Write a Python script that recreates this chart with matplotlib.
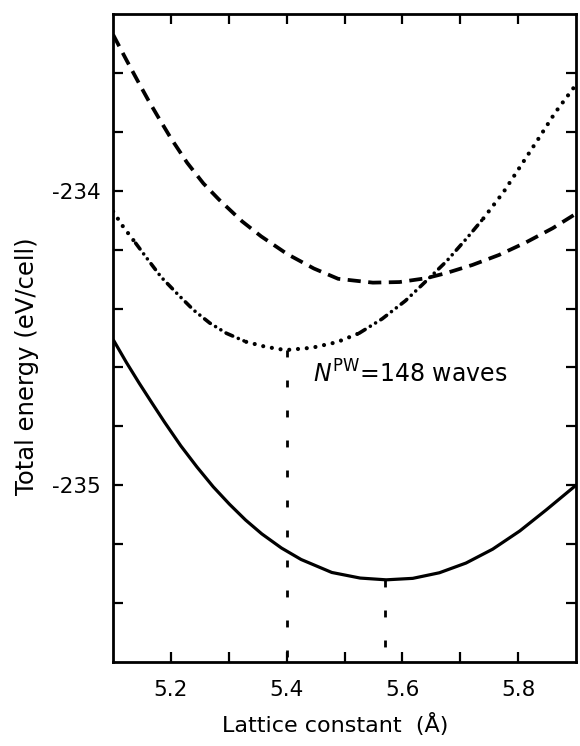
import matplotlib
matplotlib.use("Agg")
import matplotlib.pyplot as plt
from matplotlib.ticker import FixedLocator

# total energy vs lattice constant, converged basis (solid)
a_conv = [5.10, 5.123, 5.145, 5.167, 5.189, 5.217, 5.245, 5.273, 5.301, 5.329,
          5.357, 5.391, 5.425, 5.478, 5.527, 5.572, 5.618, 5.664, 5.710, 5.756,
          5.803, 5.849, 5.90]
e_conv = [-234.505, -234.583, -234.653, -234.720, -234.786, -234.866, -234.938,
          -235.005, -235.064, -235.118, -235.165, -235.213, -235.252, -235.296,
          -235.315, -235.321, -235.316, -235.297, -235.264, -235.217, -235.155,
          -235.083, -235.000]

# fixed energy cutoff (dashed)
a_cut = [5.10, 5.123, 5.145, 5.161, 5.178, 5.200, 5.228, 5.256, 5.283, 5.323,
         5.356, 5.401, 5.447, 5.489, 5.549, 5.595, 5.641, 5.675, 5.721, 5.767,
         5.814, 5.860, 5.90]
e_cut = [-233.47, -233.556, -233.636, -233.693, -233.750, -233.822, -233.905,
         -233.975, -234.030, -234.104, -234.155, -234.215, -234.264, -234.299,
         -234.312, -234.310, -234.297, -234.280, -234.252, -234.218, -234.175,
         -234.127, -234.078]

# fixed number of plane waves, N_PW = 148 (dotted)
a_pw = [5.10, 5.117, 5.139, 5.161, 5.183, 5.211, 5.239, 5.267, 5.296, 5.330,
        5.364, 5.398, 5.444, 5.487, 5.525, 5.565, 5.605, 5.635, 5.676, 5.711,
        5.740, 5.775, 5.805, 5.835, 5.864, 5.90]
e_pw = [-234.07, -234.121, -234.178, -234.236, -234.293, -234.350, -234.405,
        -234.449, -234.484, -234.513, -234.530, -234.541, -234.533, -234.514,
        -234.484, -234.435, -234.374, -234.318, -234.240, -234.162, -234.094,
        -234.004, -233.914, -233.824, -233.735, -233.64]

# equilibrium lattice constants
a_min_pw, e_min_pw = 5.40, -234.541
a_min_conv, e_min_conv = 5.57, -235.321

x_ticks = [5.2, 5.4, 5.6, 5.8]
x_ticklabels = ['5.2', '5.4', '5.6', '5.8']
y_ticks = [-235.0, -234.0]
y_ticklabels = ['-235', '-234']

fig = plt.figure(figsize=(5.8, 7.46), dpi=100)
ax = fig.add_axes([0.195, 0.1126, 0.798, 0.8686])

ax.plot(a_conv, e_conv, color='k', lw=2.3, solid_capstyle='butt',
        solid_joinstyle='round')
ax.plot(a_cut, e_cut, color='k', lw=2.7, dashes=(3.5, 2.0))

# the N_PW curve changes its pen between dots and dash-dots
dots = dict(color='k', lw=3.0, dashes=(0.01, 2.1), dash_capstyle='round')
dashdot = dict(color='k', lw=2.6, dashes=(2.0, 1.7, 0.01, 1.7, 0.01, 1.7),
               dash_capstyle='round')
segs = [(0, 3, dots), (2, 10, dashdot), (9, 15, dots), (14, 21, dashdot),
        (20, len(a_pw), dots)]
for i0, i1, st in segs:
    ax.plot(a_pw[i0:i1], e_pw[i0:i1], **st)

ax.set_xlim(5.1, 5.9)
ax.set_ylim(-235.6, -233.4)

vline = dict(color='k', lw=2.0, dashes=(2.5, 8.3))
ax.plot([a_min_pw, a_min_pw], [e_min_pw, -235.6], **vline)
ax.plot([a_min_conv, a_min_conv], [e_min_conv, -235.6], **vline)

ax.text(5.445, -234.65, r'$N^{\mathrm{PW}}$=148 waves', fontsize=17,
        ha='left', va='baseline')

ax.xaxis.set_major_locator(FixedLocator(x_ticks))
ax.xaxis.set_minor_locator(FixedLocator([5.3, 5.5, 5.7]))
ax.set_xticklabels(x_ticklabels)
ax.yaxis.set_major_locator(FixedLocator(y_ticks))
ax.yaxis.set_minor_locator(FixedLocator([-235.4, -235.2, -234.8, -234.6,
                                         -234.4, -234.2, -233.8, -233.6]))
ax.set_yticklabels(y_ticklabels)

ax.tick_params(which='both', direction='in', top=True, right=True,
               length=7, width=1.6)
ax.tick_params(axis='x', which='major', pad=13, labelsize=15.5)
ax.tick_params(axis='y', which='major', pad=9, labelsize=15.5)
for sp in ax.spines.values():
    sp.set_linewidth(2.0)

ax.set_xlabel(u'Lattice constant  (\u00c5)', fontsize=16)
ax.set_ylabel('Total energy (eV/cell)', fontsize=17.5)
ax.xaxis.set_label_coords(0.48, -0.078)
ax.yaxis.set_label_coords(-0.16, 0.457)

fig.savefig('out.png', dpi=100)
